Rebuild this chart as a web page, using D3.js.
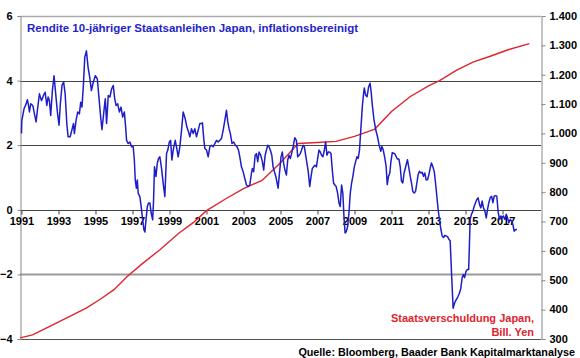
<!DOCTYPE html>
<html><head><meta charset="utf-8">
<script src="https://cdn.jsdelivr.net/npm/d3@7"></script>
<style>
html,body{margin:0;padding:0;background:#fff;}
text{font-family:"Liberation Sans",Arial,sans-serif;font-weight:bold;}
</style></head>
<body><svg id="c" width="580" height="358"></svg>
<script>
// ---- DATA ----
const yieldDates = [
1991.00,1991.02,1991.14,1991.25,1991.32,1991.38,1991.43,1991.50,1991.61,1991.68,1991.79,1991.86,1991.97,
1992.08,1992.19,1992.28,1992.37,1992.44,1992.51,1992.58,1992.67,1992.76,1992.85,1992.94,
1993.03,1993.10,1993.19,1993.28,1993.36,1993.45,1993.52,1993.63,1993.72,1993.81,1993.86,1993.95,
1994.04,1994.13,1994.20,1994.27,1994.35,1994.42,1994.51,1994.60,1994.69,1994.78,1994.88,1994.99,
1995.10,1995.17,1995.28,1995.35,1995.46,1995.53,1995.60,1995.69,1995.78,1995.87,1995.96,
1996.04,1996.11,1996.20,1996.29,1996.38,1996.47,1996.56,1996.63,1996.68,1996.77,1996.86,1996.95,
1997.04,1997.10,1997.15,1997.21,1997.26,1997.31,1997.40,1997.47,1997.55,1997.62,1997.67,1997.73,1997.80,1997.87,1997.94,
1998.01,1998.09,1998.14,1998.19,1998.27,1998.34,1998.41,1998.48,1998.57,1998.66,1998.75,1998.84,1998.91,1998.99,
1999.06,1999.13,1999.20,1999.31,1999.38,1999.47,1999.56,1999.65,1999.74,1999.85,1999.94,
2000.03,2000.10,2000.19,2000.28,2000.37,2000.46,2000.55,2000.64,2000.73,2000.78,2000.86,2000.91,
2001.00,2001.09,2001.18,2001.27,2001.36,2001.45,2001.54,2001.63,2001.72,2001.81,2001.90,2001.99,
2002.08,2002.15,2002.22,2002.29,2002.38,2002.47,2002.56,2002.65,2002.73,2002.80,2002.89,2002.98,
2003.07,2003.16,2003.25,2003.34,2003.43,2003.48,2003.55,2003.63,2003.70,2003.77,2003.84,2003.93,
2004.02,2004.09,2004.17,2004.24,2004.31,2004.38,2004.45,2004.53,2004.60,2004.67,2004.75,2004.82,2004.87,2004.96,
2005.03,2005.10,2005.17,2005.24,2005.32,2005.39,2005.46,2005.53,2005.60,2005.68,2005.77,2005.86,2005.93,
2006.00,2006.07,2006.14,2006.22,2006.29,2006.36,2006.43,2006.50,2006.58,2006.65,2006.72,2006.79,2006.86,2006.94,
2007.01,2007.08,2007.15,2007.22,2007.29,2007.37,2007.44,2007.51,2007.58,2007.65,2007.73,2007.80,2007.87,2007.94,
2008.01,2008.09,2008.16,2008.23,2008.30,2008.37,2008.43,2008.49,2008.56,2008.63,2008.70,2008.77,2008.84,2008.91,2008.99,
2009.06,2009.13,2009.20,2009.27,2009.35,2009.42,2009.49,2009.53,2009.60,2009.68,2009.76,2009.84,2009.90,2009.97,
2010.05,2010.15,2010.24,2010.33,2010.42,2010.48,2010.55,2010.64,2010.71,2010.77,2010.84,2010.91,2010.96,
2011.04,2011.11,2011.18,2011.25,2011.32,2011.40,2011.47,2011.54,2011.61,2011.68,2011.77,2011.86,2011.94,
2012.01,2012.08,2012.15,2012.23,2012.30,2012.37,2012.44,2012.51,2012.59,2012.66,2012.73,2012.80,2012.87,2012.95,
2013.02,2013.09,2013.16,2013.23,2013.31,2013.38,2013.45,2013.52,2013.59,2013.67,2013.74,2013.81,2013.88,2013.95,
2014.03,2014.10,2014.17,2014.24,2014.33,2014.42,2014.50,2014.58,2014.66,2014.74,2014.82,2014.88,2014.95,
2015.03,2015.10,2015.17,2015.21,2015.25,2015.32,2015.40,2015.47,2015.54,2015.61,2015.68,2015.76,2015.83,2015.90,2015.97,
2016.05,2016.12,2016.19,2016.26,2016.33,2016.41,2016.48,2016.55,2016.62,2016.69,2016.77,2016.84,2016.91,2016.98,
2017.05,2017.13,2017.20,2017.27,2017.34,2017.41,2017.49,2017.56,2017.63,2017.72,2017.78
];
const yieldValues = [
2.36,2.77,3.13,3.28,3.41,3.23,3.03,3.28,3.23,3.03,2.72,3.08,3.59,
3.38,3.54,3.64,3.23,3.49,3.38,2.92,3.69,4.15,3.59,3.03,
2.62,3.28,3.85,3.95,3.59,2.67,2.26,2.26,2.46,2.67,2.36,2.77,
3.03,2.97,3.33,3.18,3.90,4.72,4.92,4.41,4.10,3.69,3.95,4.15,
4.05,3.59,2.87,2.48,3.08,3.44,2.67,3.54,3.49,3.74,3.85,
3.44,3.23,3.28,3.03,3.18,2.87,3.03,2.56,2.15,2.05,2.10,1.95,
1.95,1.54,0.92,0.67,0.92,0.51,0.41,0.10,-0.31,-0.62,-0.69,-0.31,0.10,0.21,0.21,
-0.10,-0.31,0.31,1.33,1.03,1.44,1.59,1.64,1.28,0.82,0.41,1.74,1.85,2.10,
2.15,1.54,1.85,2.15,1.95,1.64,1.95,2.46,3.03,2.82,2.56,
2.41,2.26,2.51,2.36,2.51,2.26,2.46,2.67,2.67,2.69,2.15,1.90,
1.85,1.64,1.95,2.00,1.95,2.05,2.15,2.10,2.15,2.21,2.46,2.77,
3.08,2.72,2.51,2.36,2.05,2.10,2.00,1.95,1.85,1.64,1.33,1.18,
0.97,0.77,0.72,0.77,1.13,1.28,1.18,1.69,1.74,1.49,1.79,1.69,
1.49,1.23,1.69,1.85,2.00,1.95,1.85,1.69,1.33,1.18,1.03,0.82,0.67,1.23,
1.64,1.79,1.44,1.23,1.08,1.54,1.69,1.59,1.74,1.95,2.23,2.15,1.64,
1.69,1.74,1.85,2.00,1.95,1.69,1.44,1.18,0.72,1.03,1.28,1.33,1.38,1.33,
1.59,1.85,1.79,1.69,1.64,1.85,2.10,1.69,1.79,1.79,1.74,1.23,0.82,0.77,
0.72,0.51,0.21,0.10,0.77,0.51,-0.21,-0.72,-0.67,-0.51,-0.10,0.51,0.82,1.03,1.33,
1.49,1.64,1.59,1.85,2.56,3.18,3.60,3.77,3.55,3.50,3.80,3.92,3.65,3.20,
2.80,2.47,2.27,2.01,1.81,1.96,1.86,1.60,1.34,0.78,1.04,1.14,1.45,
1.77,1.75,1.73,1.65,1.57,1.57,1.34,0.88,0.83,1.14,1.34,1.55,1.29,
1.04,0.83,0.57,0.52,0.57,0.83,1.09,1.19,1.14,1.16,1.04,1.14,0.93,0.93,
1.09,1.29,1.45,1.34,1.19,0.83,0.42,0.01,-0.30,-0.61,-0.81,-0.86,-0.79,-0.81,
-0.83,-0.91,-0.96,-1.90,-3.05,-2.87,-2.78,-2.70,-2.60,-2.45,-2.10,-2.00,-2.10,
-1.90,-1.85,-1.85,-1.10,-0.30,-0.14,-0.04,0.11,0.22,0.32,0.37,0.16,0.06,0.27,0.06,
-0.04,-0.25,0.01,0.22,0.37,0.42,0.22,0.42,0.44,0.42,-0.09,-0.30,-0.19,-0.25,
-0.19,-0.30,-0.14,-0.25,-0.40,-0.30,-0.35,-0.45,-0.66,-0.61,-0.61
];
const debtDates  = [1990.92,1991.6,1992.5,1993.5,1994.5,1995.3,1996.0,1996.7,1997.5,1998.5,1999.5,2000.3,2001.0,2002.0,2003.0,2004.0,2005.0,2005.95,2007.0,2008.0,2009.0,2010.1,2011.0,2012.0,2013.0,2013.6,2014.5,2015.4,2016.3,2017.3,2018.45];
const debtValues = [304,314,342,374,405,437,468,512,555,605,660,697,737,776,812,840,900,966,969,973,990,1015,1075,1125,1162,1180,1215,1243,1262,1285,1306];
const yearTicks  = [1991,1993,1995,1997,1999,2001,2003,2005,2007,2009,2011,2013,2015,2017];
const leftTicks  = [-4,-2,0,2,4,6];
const rightTicks = [300,400,500,600,700,800,900,1000,1100,1200,1300,1400];
const titleText  = "Rendite 10-jähriger Staatsanleihen Japan, inflationsbereinigt";
const debtLabel  = ["Staatsverschuldung Japan,","Bill. Yen"];
const sourceText = "Quelle: Bloomberg, Baader Bank Kapitalmarktanalyse";

// ---- CHART ----
const svg = d3.select("#c");
svg.append("rect").attr("width",580).attr("height",358).attr("fill","#fff");
const x  = d3.scaleLinear().domain([1990.92, 2019.08]).range([20, 541]);
const yL = d3.scaleLinear().domain([-4, 6]).range([339, 16]);
const yR = d3.scaleLinear().domain([300, 1400]).range([339, 16]);
const crisp = v => Math.round(v) + 0.5;

// gridlines
const gridStyle = {6:["#aaa",1.5],4:["#444",1],2:["#444",1],0:["#444",1],"-2":["#999",1.8],"-4":["#555",1]};
svg.append("g").selectAll("line").data(leftTicks).join("line")
  .attr("x1",20).attr("x2",541)
  .attr("y1",d=>crisp(yL(d))).attr("y2",d=>crisp(yL(d)))
  .attr("stroke",d=>gridStyle[d][0]).attr("stroke-width",d=>gridStyle[d][1]);

// left axis
const gl = svg.append("g").attr("transform","translate(20.5,0)")
  .call(d3.axisLeft(yL).tickValues(leftTicks).tickSize(3).tickPadding(5).tickFormat(d3.format("d")));
gl.select(".domain").attr("stroke","#888");
gl.selectAll(".tick line").attr("stroke","#888");
gl.selectAll("text").attr("font-size",11).attr("fill","#000").style("font-family","'Liberation Sans',Arial,sans-serif").style("font-weight","bold");

// right axis
const gr = svg.append("g").attr("transform","translate(541.5,0)")
  .call(d3.axisRight(yR).tickValues(rightTicks).tickSize(4).tickPadding(4)
    .tickFormat(d => d3.format(",")(d).replace(",", ".")));
gr.select(".domain").attr("stroke","#888");
gr.selectAll(".tick line").attr("stroke","#888");
gr.selectAll("text").attr("font-size",11).attr("fill","#000").attr("dy","0.3em").style("font-family","'Liberation Sans',Arial,sans-serif").style("font-weight","bold");

// x axis at zero
const gx = svg.append("g").attr("transform",`translate(0,${crisp(yL(0))})`)
  .call(d3.axisBottom(x).tickValues(yearTicks).tickSize(4).tickPadding(3).tickFormat(d3.format("d")));
gx.select(".domain").remove();
gx.selectAll(".tick line").attr("stroke","#444");
gx.selectAll("text").attr("font-size",11).attr("fill","#000").style("font-family","'Liberation Sans',Arial,sans-serif").style("font-weight","bold");

// red debt line
svg.append("path").datum(debtDates.map((d,i)=>[d,debtValues[i]]))
  .attr("fill","none").attr("stroke","#e0242c").attr("stroke-width",1.4)
  .attr("d", d3.line().x(d=>x(d[0])).y(d=>yR(d[1])));

// blue yield line
svg.append("path").datum(yieldDates.map((d,i)=>[d,yieldValues[i]]))
  .attr("fill","none").attr("stroke","#1e1ec8").attr("stroke-width",1.5).attr("stroke-linejoin","round")
  .attr("d", d3.line().x(d=>x(d[0])).y(d=>yL(d[1])));

// texts
svg.append("text").attr("x",27).attr("y",32).attr("font-size",11.5).attr("fill","#2424c8").text(titleText);
svg.append("g").selectAll("text").data(debtLabel).join("text")
  .attr("x",534).attr("y",(d,i)=>322+i*14).attr("text-anchor","end")
  .attr("font-size",11).attr("fill","#e0242c").text(d=>d);
svg.append("text").attr("x",575).attr("y",355.5).attr("text-anchor","end")
  .attr("font-size",10.8).attr("fill","#000").text(sourceText);
</script></body></html>
